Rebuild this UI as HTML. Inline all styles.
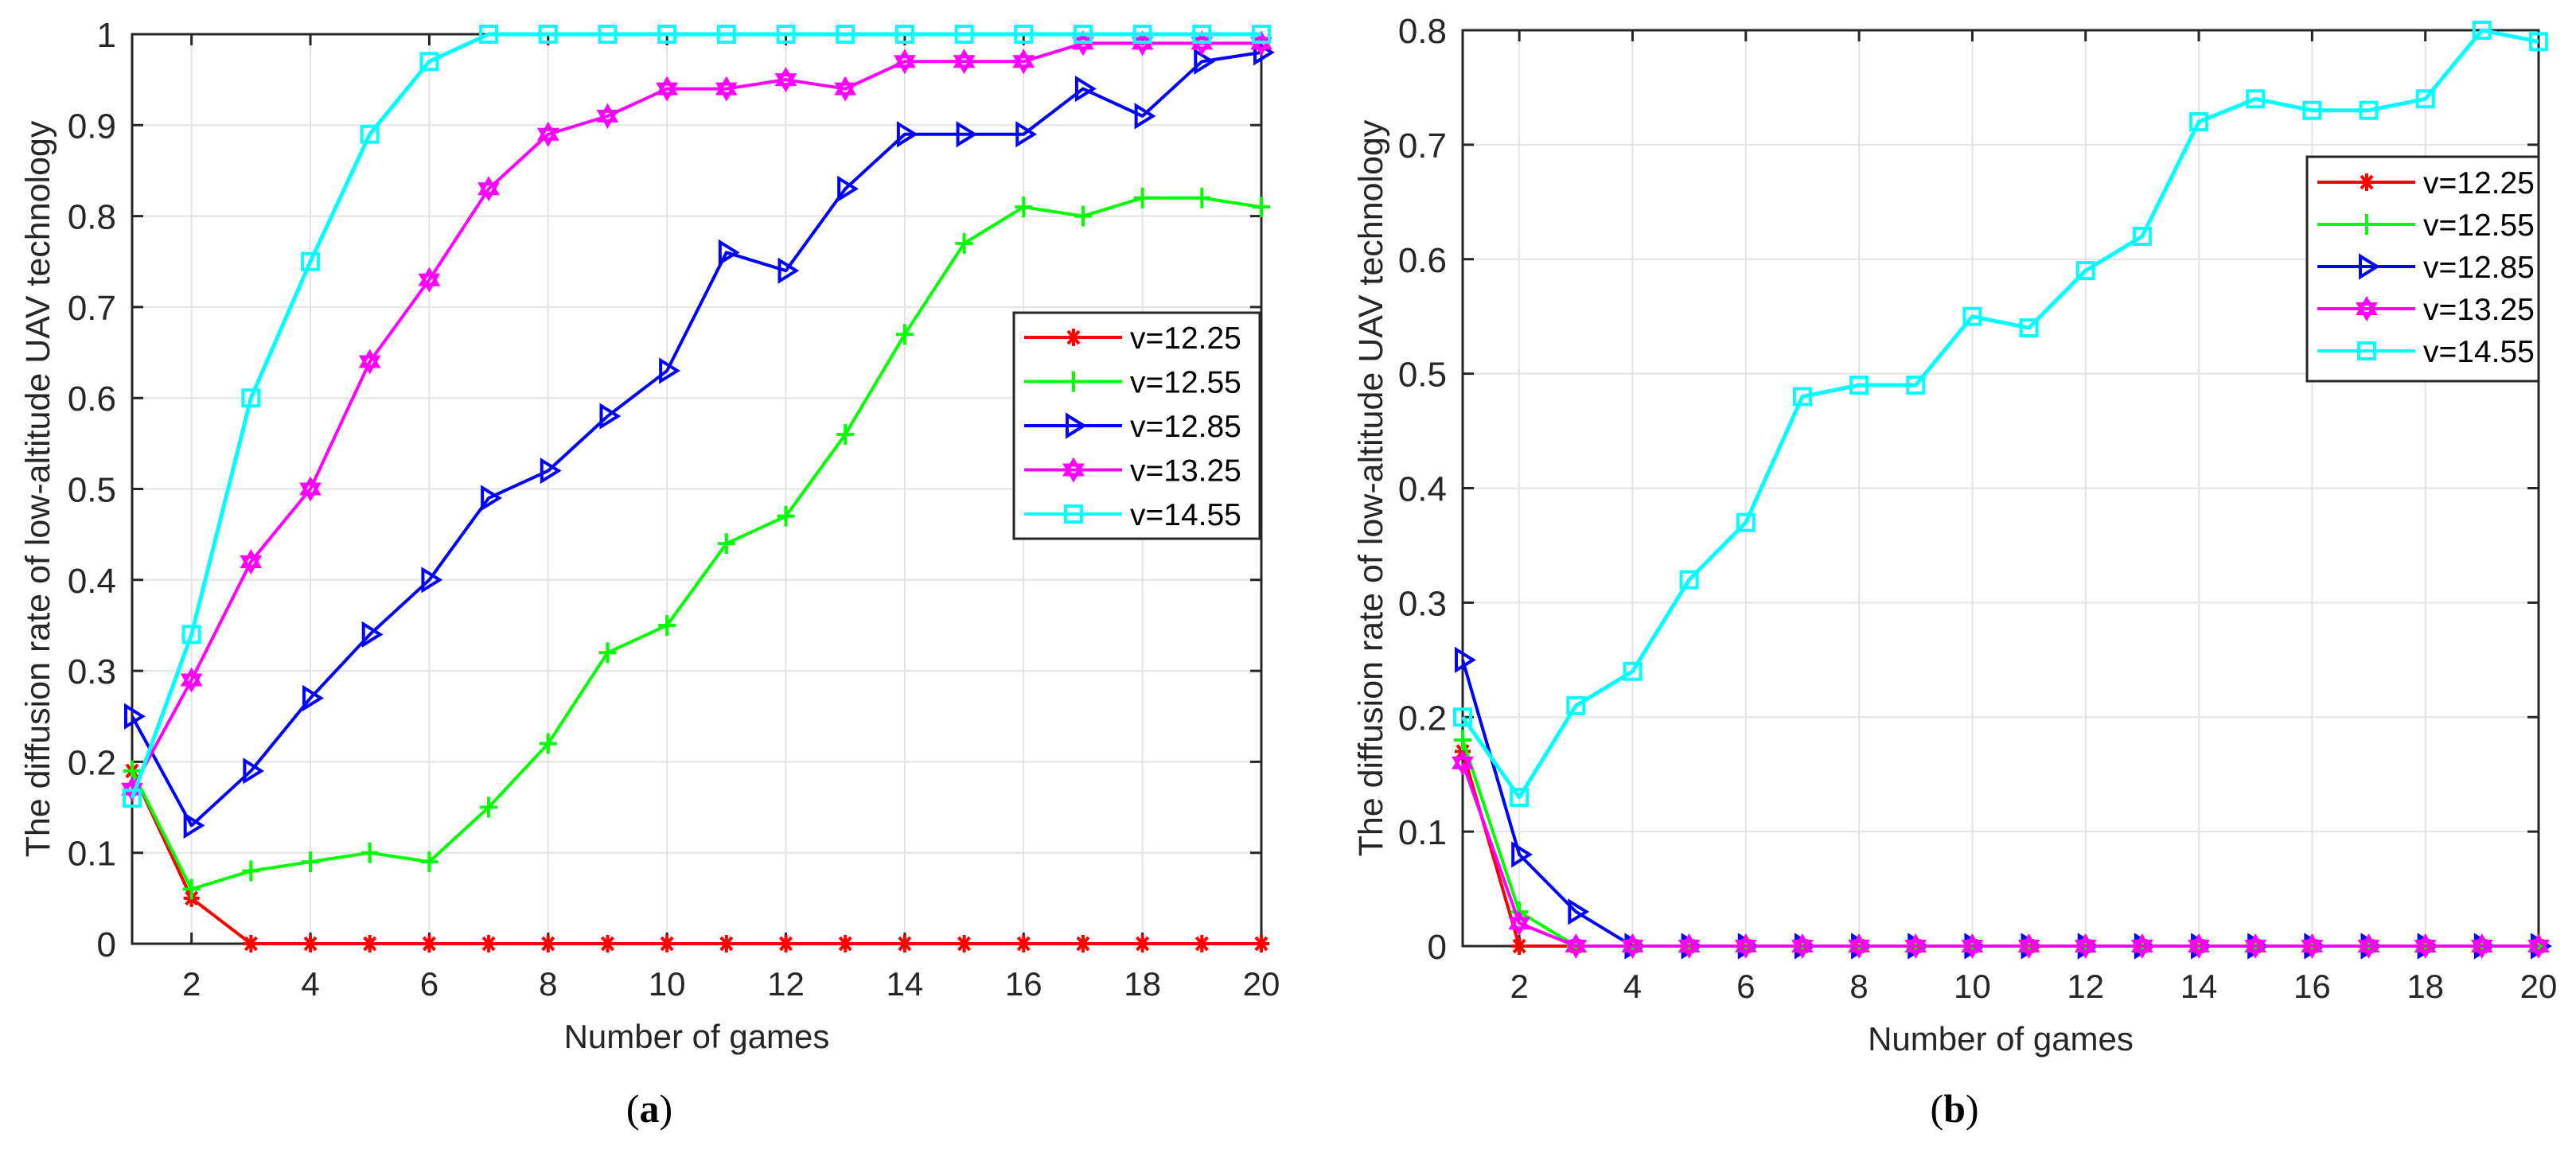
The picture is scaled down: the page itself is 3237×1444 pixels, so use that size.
<!DOCTYPE html>
<html><head><meta charset="utf-8"><style>
html,body{margin:0;padding:0;background:#fff;}
svg{display:block;font-family:"Liberation Sans",Arial,sans-serif;}
</style></head><body>
<svg id="fig" width="3237" height="1444" viewBox="0 0 3237 1444" xmlns="http://www.w3.org/2000/svg">
<rect width="3237" height="1444" fill="#fff"/>
<g id="pa"></g>
<g id="pb"></g>
<text x="816" y="1410" font-family="Liberation Serif,serif" font-size="50" text-anchor="middle">(<tspan font-weight="bold">a</tspan>)</text>
<text x="2456" y="1410" font-family="Liberation Serif,serif" font-size="50" text-anchor="middle">(<tspan font-weight="bold">b</tspan>)</text>
</svg>
<script>
const games = [1,2,3,4,5,6,7,8,9,10,11,12,13,14,15,16,17,18,19,20];
const xTicks = [2,4,6,8,10,12,14,16,18,20];
const legendLabels = ["v=12.25","v=12.55","v=12.85","v=13.25","v=14.55"];
const yTicksA = [0,0.1,0.2,0.3,0.4,0.5,0.6,0.7,0.8,0.9,1];
const yTickLabelsA = ["0","0.1","0.2","0.3","0.4","0.5","0.6","0.7","0.8","0.9","1"];
const yTicksB = [0,0.1,0.2,0.3,0.4,0.5,0.6,0.7,0.8];
const yTickLabelsB = ["0","0.1","0.2","0.3","0.4","0.5","0.6","0.7","0.8"];
const a_v1225 = [0.19,0.05,0,0,0,0,0,0,0,0,0,0,0,0,0,0,0,0,0,0];
const a_v1255 = [0.19,0.06,0.08,0.09,0.10,0.09,0.15,0.22,0.32,0.35,0.44,0.47,0.56,0.67,0.77,0.81,0.80,0.82,0.82,0.81];
const a_v1285 = [0.25,0.13,0.19,0.27,0.34,0.40,0.49,0.52,0.58,0.63,0.76,0.74,0.83,0.89,0.89,0.89,0.94,0.91,0.97,0.98];
const a_v1325 = [0.17,0.29,0.42,0.50,0.64,0.73,0.83,0.89,0.91,0.94,0.94,0.95,0.94,0.97,0.97,0.97,0.99,0.99,0.99,0.99];
const a_v1455 = [0.16,0.34,0.60,0.75,0.89,0.97,1,1,1,1,1,1,1,1,1,1,1,1,1,1];
const b_v1225 = [0.17,0,0,0,0,0,0,0,0,0,0,0,0,0,0,0,0,0,0,0];
const b_v1255 = [0.18,0.03,0,0,0,0,0,0,0,0,0,0,0,0,0,0,0,0,0,0];
const b_v1285 = [0.25,0.08,0.03,0,0,0,0,0,0,0,0,0,0,0,0,0,0,0,0,0];
const b_v1325 = [0.16,0.02,0,0,0,0,0,0,0,0,0,0,0,0,0,0,0,0,0,0];
const b_v1455 = [0.20,0.13,0.21,0.24,0.32,0.37,0.48,0.49,0.49,0.55,0.54,0.59,0.62,0.72,0.74,0.73,0.73,0.74,0.80,0.79];

const NS="http://www.w3.org/2000/svg";
const colors=["#ff0000","#00ff00","#0000ff","#ff00ff","#00ffff"];
const markers=["star","plus","tri","hex","square"];
function mk(tag,attrs,parent){const e=document.createElementNS(NS,tag);for(const k in attrs)e.setAttribute(k,attrs[k]);parent.appendChild(e);return e;}

function marker(g,type,cx,cy,col){
  let e;
  if(type==="star"){
    e=mk("path",{d:`M${cx-10},${cy}H${cx+10}M${cx},${cy-11}V${cy+11}M${cx-7},${cy-8}L${cx+7},${cy+8}M${cx-7},${cy+8}L${cx+7},${cy-8}`,stroke:col,"stroke-width":4,fill:"none"},g);
  } else if(type==="plus"){
    e=mk("path",{d:`M${cx-11},${cy}H${cx+11}M${cx},${cy-13}V${cy+13}`,stroke:col,"stroke-width":4,fill:"none"},g);
  } else if(type==="tri"){
    e=mk("polygon",{points:`${cx-8},${cy-13} ${cx+13},${cy} ${cx-8},${cy+13}`,stroke:col,"stroke-width":4,fill:"none"},g);
  } else if(type==="hex"){
    const r=12;let p1=[],p2=[];
    for(let i=0;i<3;i++){const a1=-Math.PI/2+i*2*Math.PI/3,a2=Math.PI/2+i*2*Math.PI/3;p1.push((cx+r*Math.cos(a1))+","+(cy+r*Math.sin(a1)));p2.push((cx+r*Math.cos(a2))+","+(cy+r*Math.sin(a2)));}
    e=mk("path",{d:"M"+p1.join("L")+"ZM"+p2.join("L")+"Z",stroke:col,"stroke-width":4,fill:"none"},g);
  } else {
    e=mk("rect",{x:cx-10,y:cy-10,width:20,height:20,stroke:col,"stroke-width":4,fill:"none"},g);
  }
  
  
}

function panel(gid,L,R,T,B,ymax,yTicks,yLabels,series,yLabelX,tickRight,leg){
  const g=document.getElementById(gid);
  const sx=v=>L+(v-1)/19*(R-L);
  const sy=v=>B-v/ymax*(B-T);
  for(const t of xTicks){const l=mk("line",{x1:sx(t),x2:sx(t),y1:T,y2:B,stroke:"#e3e3e3","stroke-width":2},g);
    }
  for(const t of yTicks){const l=mk("line",{x1:L,x2:R,y1:sy(t),y2:sy(t),stroke:"#e3e3e3","stroke-width":2},g);
    }
  const box=mk("rect",{x:L,y:T,width:R-L,height:B-T,fill:"none",stroke:"#262626","stroke-width":3},g);
  
  for(const t of xTicks){
    mk("path",{d:`M${sx(t)},${B}v-14M${sx(t)},${T}v14`,stroke:"#262626","stroke-width":3},g);
    const tx=mk("text",{x:sx(t),y:B+65,"font-size":42,"text-anchor":"middle",fill:"#262626"},g);tx.textContent=t;
    
  }
  yTicks.forEach((t,i)=>{
    mk("path",{d:`M${L},${sy(t)}h14M${R},${sy(t)}h-14`,stroke:"#262626","stroke-width":3},g);
    const tx=mk("text",{x:tickRight,y:sy(t)+16,"font-size":44,"text-anchor":"end",fill:"#262626"},g);tx.textContent=yLabels[i];
    
  });
  series.forEach((s,k)=>{
    const pts=games.map((x,i)=>sx(x)+","+sy(s[i])).join(" ");
    const pl=mk("polyline",{points:pts,fill:"none",stroke:colors[k],"stroke-width":k===4?5:4,"stroke-linejoin":"round"},g);
    
    games.forEach((x,i)=>marker(g,markers[k],sx(x),sy(s[i]),colors[k]));
  });
  const xl=mk("text",{x:(L+R)/2,y:B+131,"font-size":42,"text-anchor":"middle",fill:"#262626"},g);xl.textContent="Number of games";
  
  const yl=mk("text",{x:0,y:0,"font-size":43,"text-anchor":"middle",fill:"#262626",transform:`translate(${yLabelX},${(T+B)/2}) rotate(-90)`},g);
  yl.textContent="The diffusion rate of low-altitude UAV technology";
  
  const lg=mk("g",{},g);
  const lr=mk("rect",{x:leg.x,y:leg.y,width:leg.w,height:leg.h,fill:"#fff",stroke:"#262626","stroke-width":3},lg);
  
  legendLabels.forEach((lab,k)=>{
    const y=leg.y0+k*leg.dy;
    const ln=mk("line",{x1:leg.x+13,x2:leg.x+136,y1:y,y2:y,stroke:colors[k],"stroke-width":4},lg);
    
    marker(lg,markers[k],leg.x+75,y,colors[k]);
    const t=mk("text",{x:leg.x+146,y:y+14,"font-size":39,fill:"#000"},lg);t.textContent=lab;
    
  });
}
panel("pa",166,1585,43,1186,1,yTicksA,yTickLabelsA,[a_v1225,a_v1255,a_v1285,a_v1325,a_v1455],62,146,
  {x:1274,y:393,w:309,h:284,y0:424,dy:55.5});
panel("pb",1838,3190,38,1189,0.8,yTicksB,yTickLabelsB,[b_v1225,b_v1255,b_v1285,b_v1325,b_v1455],1737,1818,
  {x:2899,y:197,w:291,h:282,y0:229,dy:53});
</script>
</body></html>
